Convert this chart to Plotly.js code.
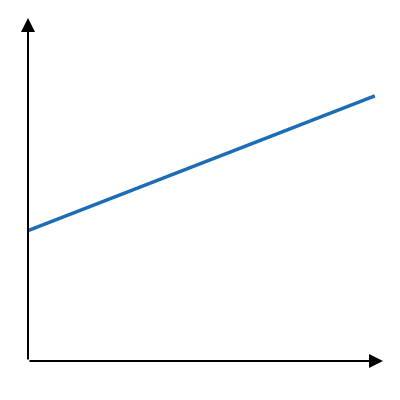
<!DOCTYPE html>
<html>
<head>
<meta charset="utf-8">
<script src="https://cdn.plot.ly/plotly-3.0.1.min.js"></script>
<style>
  html, body { margin: 0; padding: 0; background: #fff; }
  #chart { width: 400px; height: 400px; }
</style>
</head>
<body>
<div id="chart"></div>
<script>
// line from intercept at x=0 to the far end
const xValues = [0, 9.77];
const yValues = [3.8, 7.73];

const trace = {
    x: xValues,
    y: yValues,
    mode: 'lines',
    type: 'scatter',
    line: { color: '#1b6db5', width: 3.5 },
    hoverinfo: 'skip',
    cliponaxis: false
};

const layout = {
    width: 400,
    height: 400,
    margin: { l: 28, r: 17, t: 18, b: 39 },
    paper_bgcolor: '#fff',
    plot_bgcolor: '#fff',
    showlegend: false,
    xaxis: {
        range: [0, 10],
        showgrid: false,
        zeroline: false,
        showticklabels: false,
        ticks: ''
    },
    yaxis: {
        range: [0, 10],
        showgrid: false,
        zeroline: false,
        showticklabels: false,
        ticks: ''
    },
    annotations: [
        {
            // y axis with arrow at top
            xref: 'paper', yref: 'paper',
            x: 0, y: 1,
            ax: 0, ay: 343,
            text: '',
            showarrow: true,
            arrowhead: 2,
            arrowsize: 1.4,
            arrowwidth: 2,
            arrowcolor: '#000'
        },
        {
            // x axis with arrow at right
            xref: 'paper', yref: 'paper',
            x: 1, y: 0,
            ax: -355, ay: 0,
            text: '',
            showarrow: true,
            arrowhead: 2,
            arrowsize: 1.4,
            arrowwidth: 2,
            arrowcolor: '#000'
        }
    ]
};

Plotly.newPlot('chart', [trace], layout, { staticPlot: true, displayModeBar: false });
</script>
</body>
</html>
